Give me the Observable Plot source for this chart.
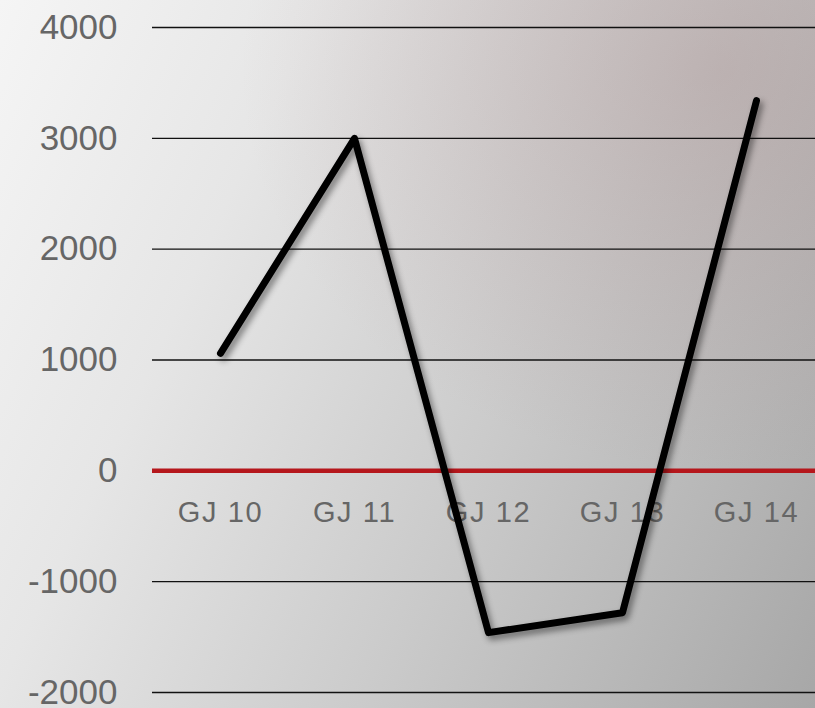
<!DOCTYPE html>
<html>
<head>
<meta charset="utf-8">
<script src="https://cdn.jsdelivr.net/npm/d3@7"></script>
<script src="https://cdn.jsdelivr.net/npm/@observablehq/plot@0.6"></script>
<style>
  html, body { margin: 0; padding: 0; width: 815px; height: 708px; overflow: hidden; }
  body {
    background:
      radial-gradient(ellipse 480px 400px at 720px 70px, rgba(165,130,130,0.30), rgba(165,130,130,0) 100%),
      linear-gradient(115deg, #f5f5f5 0%, #e6e6e6 28%, #cbcbcb 60%, #a7a7a7 100%);
  }
  #chart svg { display: block; background: transparent; }
</style>
</head>
<body>
<div id="chart"></div>
<script>
const categories = ["GJ 10", "GJ 11", "GJ 12", "GJ 13", "GJ 14"];
const values = [1060, 3000, -1460, -1280, 3340];
const yTicks = [-2000, -1000, 0, 1000, 2000, 3000, 4000];

const data = categories.map((c, i) => ({cat: c, value: values[i]}));
const gridTicks = yTicks.filter(t => t !== 0);

const plot = Plot.plot({
  width: 815,
  height: 708,
  marginLeft: 152,
  marginRight: 0,
  marginTop: 0,
  marginBottom: 0,
  style: {background: "transparent", overflow: "visible"},
  x: {type: "point", domain: categories, range: [219, 756], padding: 0, axis: null},
  y: {domain: [-2000, 4000], range: [692, 27], axis: null},
  marks: [
    Plot.ruleY(gridTicks, {stroke: "#111", strokeWidth: 1.4}),
    Plot.ruleY([0], {stroke: "#b5171c", strokeWidth: 4.5}),
    Plot.axisY({
      ticks: yTicks,
      tickSize: 0,
      tickPadding: 35,
      fontSize: 35,
      fill: "#666",
      fontFamily: "Liberation Sans, Arial, sans-serif",
      tickFormat: d => String(d),
      label: null
    }),
    Plot.text(categories, {
      x: d => d,
      y: () => 0,
      dy: 31,
      lineAnchor: "top",
      textAnchor: "middle",
      fontSize: 29,
      fill: "#666",
      fontFamily: "Liberation Sans, Arial, sans-serif"
    }),
    Plot.line(data, {
      x: "cat",
      y: "value",
      stroke: "#000",
      strokeWidth: 7,
      strokeLinejoin: "round",
      strokeLinecap: "round"
    })
  ]
});

document.getElementById("chart").appendChild(plot);

d3.select(plot).selectAll("g[aria-label='line'] path")
  .style("filter", "drop-shadow(3px 4px 3px rgba(0,0,0,0.45))");
d3.select(plot).selectAll("g[aria-label='text'] text")
  .style("letter-spacing", "1.6px");
</script>
</body>
</html>
